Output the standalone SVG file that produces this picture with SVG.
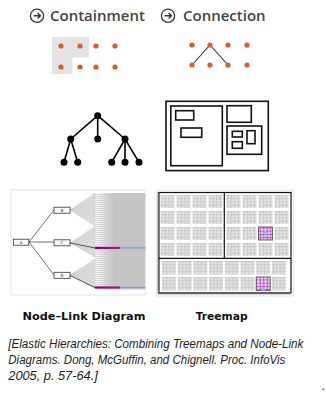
<svg xmlns="http://www.w3.org/2000/svg" xmlns:xlink="http://www.w3.org/1999/xlink" width="326" height="395" viewBox="0 0 326 395">
<style>
.title{font-family:"Open Sans","Liberation Sans",sans-serif;font-weight:600;font-size:15px;fill:#444}
.cap{font-family:"DejaVu Sans",sans-serif;font-weight:700;font-size:10.5px;fill:#111}
.cite{font-family:"Liberation Sans",sans-serif;font-style:italic;font-size:12px;fill:#222}
.dot{fill:#e0592a}
.tn{fill:#000}
.tl{stroke:#000;stroke-width:1.6;fill:none}
.tm{fill:none;stroke:#111;stroke-width:1.6}
.box{fill:#fff;stroke:#333;stroke-width:0.8}
.lbl{font-family:"DejaVu Sans",sans-serif;font-size:4px;fill:#222;text-anchor:middle}
.edge{stroke:#333;stroke-width:0.7;fill:none}
.fan{fill:#dcdcdc;stroke:#c8c8c8;stroke-width:0.4}
.icon{fill:none;stroke:#333;stroke-width:1.3}
</style>
<defs>
<linearGradient id="fade" x1="95" y1="0" x2="145" y2="0" gradientUnits="userSpaceOnUse">
<stop offset="0" stop-color="#ffffff"/>
<stop offset="0.36" stop-color="#c4c4c4"/>
<stop offset="1" stop-color="#c4c4c4"/>
</linearGradient>
<pattern id="stripes" width="4" height="2" patternUnits="userSpaceOnUse">
<rect width="4" height="1" fill="#c8c8c8" fill-opacity="0.7"/>
</pattern>
<linearGradient id="mag" x1="0" y1="0" x2="1" y2="0">
<stop offset="0" stop-color="#8a006e"/>
<stop offset="1" stop-color="#b5129a"/>
</linearGradient>
<pattern id="tex" width="3.5" height="3.25" patternUnits="userSpaceOnUse">
<rect width="3.5" height="3.25" fill="#e2e2e2"/>
<path d="M0 0.5H3.5M1.2 0V3.25" stroke="#c2c2c2" stroke-width="0.7"/>
</pattern>
<pattern id="htex" width="3.5" height="3.25" patternUnits="userSpaceOnUse">
<rect width="3.5" height="3.25" fill="#e6d6ea"/>
<path d="M0 0.5H3.5M1.2 0V3.25" stroke="#c02cc0" stroke-width="0.7"/>
</pattern>
<rect id="cell" width="14" height="13" fill="url(#tex)"/>
<rect id="bcell" width="14" height="13.5" fill="url(#tex)"/>
</defs>
<rect width="326" height="395" fill="#fff"/>

<!-- Titles -->
<g id="title-containment">
<circle class="icon" cx="37" cy="15.8" r="6.6"/>
<path d="M33.6 15.8H40.2M37.6 13.1L40.4 15.8L37.6 18.5" fill="none" stroke="#333" stroke-width="1.4"/>
<text class="title" x="50" y="21">Containment</text>
</g>
<g id="title-connection">
<circle class="icon" cx="168" cy="15.8" r="6.6"/>
<path d="M164.6 15.8H171.2M168.6 13.1L171.4 15.8L168.6 18.5" fill="none" stroke="#333" stroke-width="1.4"/>
<text class="title" x="183" y="21">Connection</text>
</g>

<!-- Containment dots -->
<g id="containment-icon">
<path d="M52 37H89V57.5H72.5V74H52Z" fill="#e4e4e5"/>
<circle class="dot" cx="61" cy="46" r="2.6"/>
<circle class="dot" cx="80" cy="46" r="2.6"/>
<circle class="dot" cx="96" cy="46" r="2.6"/>
<circle class="dot" cx="115" cy="46" r="2.6"/>
<circle class="dot" cx="61" cy="67" r="2.6"/>
<circle class="dot" cx="80" cy="67" r="2.6"/>
<circle class="dot" cx="96" cy="67" r="2.6"/>
<circle class="dot" cx="115" cy="67" r="2.6"/>
</g>

<!-- Connection dots -->
<g id="connection-icon">
<path d="M192 65L210 45L228 65" fill="none" stroke="#333" stroke-width="1.1"/>
<circle class="dot" cx="192" cy="45" r="2.6"/>
<circle class="dot" cx="210" cy="45" r="2.6"/>
<circle class="dot" cx="228" cy="45" r="2.6"/>
<circle class="dot" cx="247" cy="45" r="2.6"/>
<circle class="dot" cx="192" cy="65" r="2.6"/>
<circle class="dot" cx="210" cy="65" r="2.6"/>
<circle class="dot" cx="228" cy="65" r="2.6"/>
<circle class="dot" cx="247" cy="65" r="2.6"/>
</g>

<!-- Tree icon -->
<g id="tree-icon">
<path class="tl" d="M97.7 115.7L70.7 139M97.7 115.7V139M97.7 115.7L125 139M70.7 139L64 162.3M70.7 139L77.7 162.3M125 139L111.7 162.3M125 139V162.3M125 139L139 162.3"/>
<circle class="tn" cx="97.7" cy="115.7" r="3.5"/>
<circle class="tn" cx="70.7" cy="139" r="3.5"/>
<circle class="tn" cx="97.7" cy="139" r="3.5"/>
<circle class="tn" cx="125" cy="139" r="3.5"/>
<circle class="tn" cx="64" cy="162.3" r="3.5"/>
<circle class="tn" cx="77.7" cy="162.3" r="3.5"/>
<circle class="tn" cx="111.7" cy="162.3" r="3.5"/>
<circle class="tn" cx="125" cy="162.3" r="3.5"/>
<circle class="tn" cx="139" cy="162.3" r="3.5"/>
</g>

<!-- Treemap icon -->
<g id="treemap-icon">
<rect class="tm" x="166" y="101.3" width="102.3" height="69.3"/>
<rect class="tm" x="170.8" y="106" width="51.5" height="59.7"/>
<rect class="tm" x="175.7" y="110.7" width="18" height="9.3"/>
<rect class="tm" x="181" y="128" width="20.7" height="9.3"/>
<rect class="tm" x="227" y="105.7" width="24.3" height="16.6"/>
<rect class="tm" x="227" y="126" width="34.7" height="28.3"/>
<rect class="tm" x="232.3" y="131.3" width="10" height="5.7"/>
<rect class="tm" x="232.3" y="141.7" width="10" height="6.6"/>
<rect class="tm" x="247" y="130.7" width="8" height="13"/>
</g>

<!-- Node-link screenshot -->
<g id="nodelink-image">
<rect x="11" y="190" width="134.7" height="105" fill="#fff" stroke="#dddddd" stroke-width="0.8"/>
<rect x="95" y="193" width="50" height="96.5" fill="url(#fade)"/>
<rect x="95" y="193" width="18" height="96.5" fill="url(#stripes)"/>
<polygon class="fan" points="70,210 95,193 95,226"/>
<path d="M70 210L95 197M70 210L95 201M70 210L95 205M70 210L95 209M70 210L95 213M70 210L95 217M70 210L95 221" stroke="#c4c4c4" stroke-width="0.4"/>
<polygon class="fan" points="70,243 95,226.5 95,257"/>
<path d="M70 243L95 230M70 243L95 234M70 243L95 238M70 243L95 242M70 243L95 246M70 243L95 250M70 243L95 254" stroke="#c4c4c4" stroke-width="0.4"/>
<polygon class="fan" points="70,275 95,259 95,289"/>
<path d="M70 275L95 263M70 275L95 267M70 275L95 271M70 275L95 275M70 275L95 279M70 275L95 283" stroke="#c4c4c4" stroke-width="0.4"/>
<path d="M70 243L95 248M70 275.5L95 287.5" stroke="#333" stroke-width="0.8"/>
<rect x="95" y="246.8" width="25" height="2.2" fill="url(#mag)"/>
<rect x="120" y="247.2" width="25.5" height="1.4" fill="#7e9ee6"/>
<rect x="95" y="286.4" width="25" height="2.2" fill="url(#mag)"/>
<rect x="120" y="286.8" width="25.5" height="1.4" fill="#7e9ee6"/>
<path class="edge" d="M29 242L54 210M29 242H54M29 242L54 275"/>
<rect class="box" x="13.5" y="239.2" width="15.3" height="6"/>
<text class="lbl" x="21.2" y="243.6">A</text>
<rect class="box" x="54" y="207.2" width="16" height="6"/>
<text class="lbl" x="62" y="211.6">B</text>
<rect class="box" x="54" y="239.8" width="16" height="6"/>
<text class="lbl" x="62" y="244.2">C</text>
<rect class="box" x="54" y="272.3" width="16" height="6"/>
<text class="lbl" x="62" y="276.7">D</text>
</g>

<!-- Treemap screenshot -->
<g id="treemap-image">
<rect x="156.7" y="190" width="136.6" height="106" fill="#fff" stroke="#dddddd" stroke-width="0.8"/>
<use xlink:href="#cell" x="160.5" y="195"/><use xlink:href="#cell" x="176.5" y="195"/><use xlink:href="#cell" x="192.5" y="195"/><use xlink:href="#cell" x="208.5" y="195"/>
<use xlink:href="#cell" x="160.5" y="211"/><use xlink:href="#cell" x="176.5" y="211"/><use xlink:href="#cell" x="192.5" y="211"/><use xlink:href="#cell" x="208.5" y="211"/>
<use xlink:href="#cell" x="160.5" y="227"/><use xlink:href="#cell" x="176.5" y="227"/><use xlink:href="#cell" x="192.5" y="227"/><use xlink:href="#cell" x="208.5" y="227"/>
<use xlink:href="#cell" x="160.5" y="243"/><use xlink:href="#cell" x="176.5" y="243"/><use xlink:href="#cell" x="192.5" y="243"/><use xlink:href="#cell" x="208.5" y="243"/>
<use xlink:href="#cell" x="226.5" y="195"/><use xlink:href="#cell" x="242.5" y="195"/><use xlink:href="#cell" x="258.5" y="195"/><use xlink:href="#cell" x="274.5" y="195"/>
<use xlink:href="#cell" x="226.5" y="211"/><use xlink:href="#cell" x="242.5" y="211"/><use xlink:href="#cell" x="258.5" y="211"/><use xlink:href="#cell" x="274.5" y="211"/>
<use xlink:href="#cell" x="226.5" y="227"/><use xlink:href="#cell" x="242.5" y="227"/><use xlink:href="#cell" x="274.5" y="227"/>
<use xlink:href="#cell" x="226.5" y="243"/><use xlink:href="#cell" x="242.5" y="243"/><use xlink:href="#cell" x="258.5" y="243"/><use xlink:href="#cell" x="274.5" y="243"/>
<rect x="258.5" y="227" width="14" height="13" fill="url(#htex)" stroke="#555" stroke-width="0.9"/>
<circle cx="265.5" cy="233.5" r="2.2" fill="#8fb0ff" fill-opacity="0.85"/>
<use xlink:href="#bcell" x="162" y="261"/><use xlink:href="#bcell" x="177.7" y="261"/><use xlink:href="#bcell" x="193.4" y="261"/><use xlink:href="#bcell" x="209.1" y="261"/><use xlink:href="#bcell" x="224.8" y="261"/><use xlink:href="#bcell" x="240.5" y="261"/><use xlink:href="#bcell" x="256.2" y="261"/><use xlink:href="#bcell" x="271.9" y="261"/>
<use xlink:href="#bcell" x="162" y="277"/><use xlink:href="#bcell" x="177.7" y="277"/><use xlink:href="#bcell" x="193.4" y="277"/><use xlink:href="#bcell" x="209.1" y="277"/><use xlink:href="#bcell" x="224.8" y="277"/><use xlink:href="#bcell" x="240.5" y="277"/><use xlink:href="#bcell" x="271.9" y="277"/>
<rect x="256.2" y="277" width="14" height="13.5" fill="url(#htex)" stroke="#555" stroke-width="0.9"/>
<circle cx="263.2" cy="289" r="2.2" fill="#8fb0ff" fill-opacity="0.85"/>
<rect x="158.5" y="192.5" width="132.5" height="100.3" fill="none" stroke="#111" stroke-width="1.2"/>
<path d="M158.8 192.5V293.3H291" fill="none" stroke="#666" stroke-width="2"/>
<path d="M224.3 192.5V258.3M158.5 258.3H291" stroke="#111" stroke-width="1.2"/>
</g>

<!-- Captions -->
<text class="cap" x="84" y="320" text-anchor="middle" textLength="123" lengthAdjust="spacingAndGlyphs">Node–Link Diagram</text>
<text class="cap" x="221.7" y="320" text-anchor="middle" textLength="52" lengthAdjust="spacingAndGlyphs">Treemap</text>

<text class="cite" x="8.3" y="347.5" textLength="295" lengthAdjust="spacingAndGlyphs">[Elastic Hierarchies: Combining Treemaps and Node-Link</text>
<text class="cite" x="8.3" y="363.5" textLength="277" lengthAdjust="spacingAndGlyphs">Diagrams. Dong, McGuffin, and Chignell. Proc. InfoVis</text>
<text class="cite" x="8.3" y="379.5" textLength="89.5" lengthAdjust="spacingAndGlyphs">2005, p. 57-64.]</text>
<text class="cite" x="322" y="390" font-size="6">.</text>
</svg>
